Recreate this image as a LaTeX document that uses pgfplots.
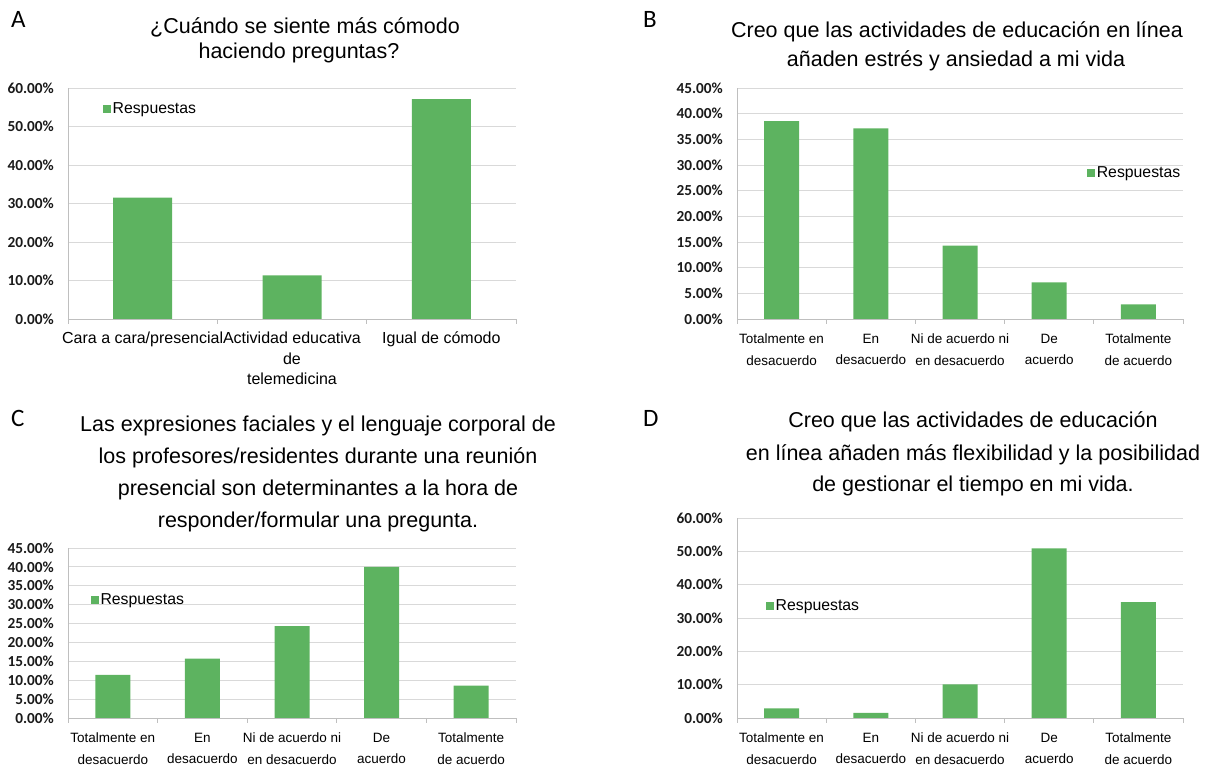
\documentclass[border=0pt]{standalone}
\usepackage{pgfplots}
\pgfplotsset{compat=1.18}
\usepackage{fontspec}
\setmainfont{Liberation Sans}
\newfontfamily\carlito{Carlito}
\definecolor{bargreen}{HTML}{5DB360}
\definecolor{gridgray}{HTML}{D9D9D9}
\definecolor{axisgray}{HTML}{BFBFBF}
\definecolor{ticktext}{HTML}{1A1A1A}
\newcommand\titlefont{\fontsize{21.5}{26}\selectfont}
\pgfplotsset{
  panel/.style={
    scale only axis, anchor=south west,
    ybar, bar width=35pt, bar shift=0pt,
    ymin=0, enlarge x limits=false,
    axis x line*=bottom, axis y line*=left,
    axis line style={axisgray, line width=0.8pt},
    ymajorgrids, major grid style={gridgray, line width=0.8pt},
    ytick style={draw=none},
    xtick style={axisgray, line width=0.8pt},
    major tick length=0pt,
    extra x tick style={major tick length=5pt, tick align=outside, grid=none},
    extra x tick labels={},
    yticklabel style={font=\carlito\bfseries\fontsize{15.3}{16}\selectfont, text=ticktext, inner sep=0pt, xshift=-14pt},
    xticklabel style={font=\fontsize{13.5}{21.5}\selectfont, align=center, inner sep=0pt, anchor=north, yshift=-15pt},
    legend image code/.code={\fill[##1] (0pt,-4pt) rectangle (8pt,4pt);},
    legend style={draw=none, fill=none, inner sep=0pt, font=\fontsize{15.8}{18}\selectfont, anchor=west,
      nodes={inner sep=1.5pt}},
  },
  fivecat/.style={
    xmin=-0.5, xmax=4.5, xtick={0,1,2,3,4},
    extra x ticks={-0.5,0.5,1.5,2.5,3.5,4.5},
    xticklabels={{Totalmente en\\desacuerdo},{En\\desacuerdo},{Ni de acuerdo ni\\en desacuerdo},{De\\acuerdo},{Totalmente\\de acuerdo}},
  },
  ytickfortyfive/.style={
    ymax=45, ytick={0,5,10,15,20,25,30,35,40,45},
    yticklabels={0.00\%,5.00\%,10.00\%,15.00\%,20.00\%,25.00\%,30.00\%,35.00\%,40.00\%,45.00\%},
  },
  yticksixty/.style={
    ymax=60, ytick={0,10,20,30,40,50,60},
    yticklabels={0.00\%,10.00\%,20.00\%,30.00\%,40.00\%,50.00\%,60.00\%},
  },
}
\begin{document}
\begin{tikzpicture}
\useasboundingbox (0,0) rectangle (1208pt,766pt);
% panel letters
\begin{scope}[every node/.style={anchor=base west, inner sep=0pt, font=\carlito\fontsize{25}{25}\selectfont}]
\node at (11pt,738pt) {A};
\node at (643pt,738pt) {B};
\node at (11pt,339pt) {C};
\node at (643pt,339pt) {D};
\end{scope}
% titles
\begin{scope}[every node/.style={anchor=base, inner sep=0pt, font=\titlefont}]
\node at (305pt,732pt) {¿Cuándo se siente más cómodo};
\node at (299pt,707pt) {haciendo preguntas?};
\node at (957pt,728pt) {Creo que las actividades de educación en línea};
\node at (956pt,699pt) {añaden estrés y ansiedad a mi vida};
\node at (318pt,334pt) {Las expresiones faciales y el lenguaje corporal de};
\node at (318pt,302pt) {los profesores/residentes durante una reunión};
\node at (318pt,270pt) {presencial son determinantes a la hora de};
\node at (318pt,238pt) {responder/formular una pregunta.};
\node at (973pt,338pt) {Creo que las actividades de educación};
\node at (973pt,305pt) {en línea añaden más flexibilidad y la posibilidad};
\node at (973pt,274pt) {de gestionar el tiempo en mi vida.};
\end{scope}

% Panel A
\begin{axis}[panel, yticksixty, at={(68pt,447pt)}, width=448pt, height=231pt,
  bar width=59pt, xmin=-0.5, xmax=2.5, xtick={0,1,2},
  extra x ticks={-0.5,0.5,1.5,2.5},
  xticklabels={{Cara a cara/presencial},{Actividad educativa\\de\\telemedicina},{Igual de cómodo}},
  xticklabel style={font=\fontsize{16}{20.5}\selectfont, yshift=2pt},
  legend style={at={(0.078,0.909)}}]
\addplot[fill=bargreen, draw=none] coordinates {(0,31.5) (1,11.3) (2,57.1)};
\addlegendentry{Respuestas}
\end{axis}

% Panel B
\begin{axis}[panel, fivecat, ytickfortyfive, at={(737pt,447pt)}, width=446pt, height=231pt,
  legend style={at={(0.785,0.632)}}]
\addplot[fill=bargreen, draw=none] coordinates {(0,38.57) (1,37.14) (2,14.29) (3,7.14) (4,2.86)};
\addlegendentry{Respuestas}
\end{axis}

% Panel C
\begin{axis}[panel, fivecat, ytickfortyfive, at={(68pt,48pt)}, width=448pt, height=170pt,
  legend style={at={(0.051,0.697)}}]
\addplot[fill=bargreen, draw=none] coordinates {(0,11.43) (1,15.71) (2,24.29) (3,40.0) (4,8.57)};
\addlegendentry{Respuestas}
\end{axis}

% Panel D
\begin{axis}[panel, fivecat, yticksixty, at={(737pt,48pt)}, width=446pt, height=200pt,
  legend style={at={(0.065,0.56)}}]
\addplot[fill=bargreen, draw=none] coordinates {(0,2.9) (1,1.5) (2,10.1) (3,50.9) (4,34.8)};
\addlegendentry{Respuestas}
\end{axis}
\end{tikzpicture}
\end{document}
